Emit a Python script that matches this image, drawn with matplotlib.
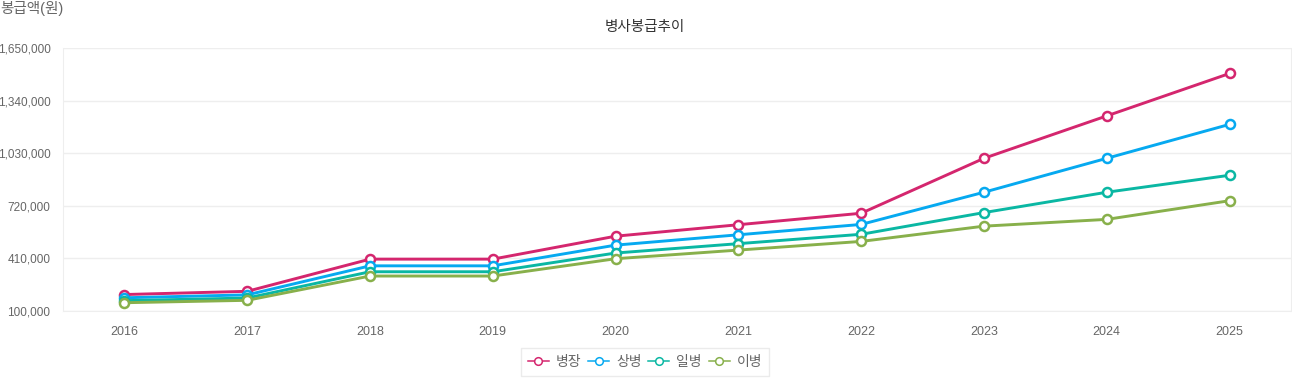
import numpy as np
import matplotlib.pyplot as plt
from matplotlib.ticker import FuncFormatter

plt.rcParams['font.family'] = ['Liberation Sans', 'Noto Sans CJK KR', 'DejaVu Sans']

years = ['2016', '2017', '2018', '2019', '2020', '2021', '2022', '2023', '2024', '2025']
sergeant = [197000, 216000, 405700, 405700, 540900, 608500, 676100, 1000000, 1250000, 1500000]
corporal = [178000, 195000, 366200, 366200, 488200, 549200, 610200, 800000, 1000000, 1200000]
pfc = [161000, 176400, 331300, 331300, 441700, 496900, 552100, 680000, 800000, 900000]
private = [148800, 163000, 306100, 306100, 408100, 459100, 510100, 600000, 640000, 750000]

names = ['병장', '상병', '일병', '이병']
series = [sergeant, corporal, pfc, private]
colors = ['#d4266e', '#06a9f0', '#0ab7a3', '#88b04b']
yticks = [100000, 410000, 720000, 1030000, 1340000, 1650000]

fig = plt.figure(figsize=(12.92, 3.8), dpi=100)
ax = fig.add_axes([63 / 1292, 1 - 311 / 380, 1228 / 1292, 263 / 380])

x = np.arange(len(years))
for name, vals, c in zip(names, series, colors):
    ax.plot(x, vals, color=c, lw=2.1, marker='o', ms=6.5, mfc='white',
            mec=c, mew=1.8, label=name, zorder=3)

ax.set_xlim(-0.5, len(years) - 0.5)
ax.set_ylim(100000, 1650000)
ax.set_yticks(yticks)
ax.yaxis.set_major_formatter(FuncFormatter(lambda v, p: f'{int(v):,}'))
ax.set_xticks(x)
ax.set_xticklabels(years)
ax.grid(axis='y', color='#eeeeee', lw=1)
ax.set_axisbelow(True)
ax.spines['top'].set_visible(False)
for s in ['left', 'right', 'bottom']:
    ax.spines[s].set_color('#eeeeee')
ax.tick_params(length=0, labelsize=9, colors='#666666')
ax.tick_params(axis='y', labelsize=8.5, pad=9)
ax.tick_params(axis='x', pad=11)

fig.text(0, 1 - 8 / 380, '봉급액(원)', fontsize=10.5, color='#666666', va='center', ha='left')
fig.text(645 / 1292, 1 - 27 / 380, '병사봉급추이', fontsize=10.5, color='#333333', va='center', ha='center')

leg = fig.legend(loc='center', bbox_to_anchor=(645 / 1292, 1 - 362 / 380), ncol=4,
                 frameon=True, fancybox=False, fontsize=10, handlelength=1.5,
                 handletextpad=0.5, columnspacing=0.5, borderpad=0.5, labelcolor='#666666')
leg.get_frame().set_edgecolor('#e6e6e6')
for line in leg.get_lines():
    line.set_linewidth(1.1)
    line.set_markersize(5.5)
    line.set_markeredgewidth(1.1)

fig.savefig('out.png', dpi=100)
